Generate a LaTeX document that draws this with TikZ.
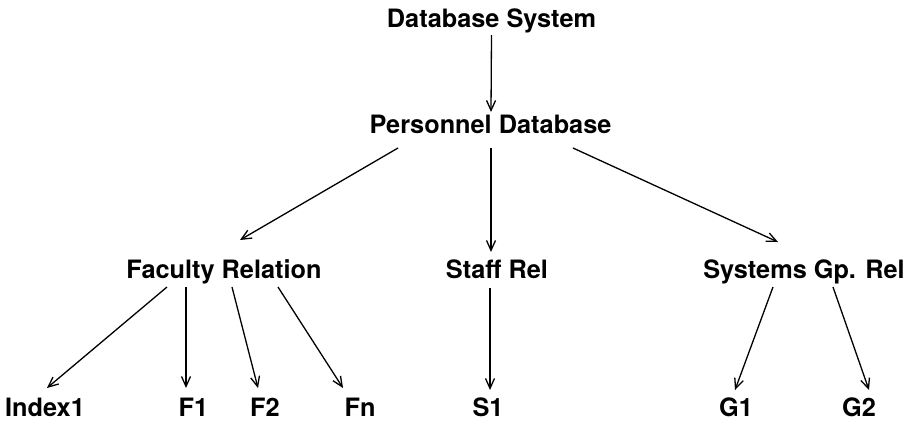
\documentclass[tikz,border=0pt]{standalone}
\usepackage{fontspec}
\setmainfont{TeX Gyre Heros}
\usetikzlibrary{arrows.meta,calc}
\tikzset{
  lbl/.style={inner sep=0pt, anchor=base, font=\fontsize{25.3}{30}\selectfont\bfseries},
  arr/.style={-{Straight Barb[length=10pt,width=9pt,line width=1.3pt]}, line width=1.3pt}
}
\begin{document}
\begin{tikzpicture}[x=1pt,y=-1pt]
\useasboundingbox (0,0) rectangle (911,424);
\node[lbl] (ds) at (491.5,27) {Database System};
\node[lbl] (pd) at (490.5,133) {Personnel Database};
\node[lbl] (fr) at (224,278) {Faculty Relation};
\node[lbl] (sr) at (497,278) {Staff Rel};
\node[lbl] (sg) at (804,278) {Systems Gp. Rel};
\node[lbl] (ix) at (45,416) {Index1};
\node[lbl] (f1) at (193.5,416) {F1};
\node[lbl] (f2) at (265,416) {F2};
\node[lbl] (fn) at (360,416) {Fn};
\node[lbl] (s1) at (488,416) {S1};
\node[lbl] (g1) at (736,416) {G1};
\node[lbl] (g2) at (859,416) {G2};
\draw[arr] ($(ds.base)+(0,8)$) -- ($(pd.base)+(0.5,-21)$);
\draw[arr] ($(pd.base)+(-92.5,15)$) -- ($(fr.base)+(16,-38)$);
\draw[arr] ($(pd.base)+(0.5,15)$) -- ($(sr.base)+(-6,-26)$);
\draw[arr] ($(pd.base)+(82.5,15)$) -- ($(sg.base)+(-26,-36)$);
\draw[arr] ($(fr.base)+(-57,9)$) -- ($(ix.base)+(2,-28)$);
\draw[arr] ($(fr.base)+(-38,9)$) -- ($(f1.base)+(-7.5,-28)$);
\draw[arr] ($(fr.base)+(8,9)$) -- ($(f2.base)+(-7,-28)$);
\draw[arr] ($(fr.base)+(54,9)$) -- ($(fn.base)+(-17,-28)$);
\draw[arr] ($(sr.base)+(-7,10)$) -- ($(s1.base)+(2,-26)$);
\draw[arr] ($(sg.base)+(-31,9)$) -- ($(g1.base)+(-1,-26)$);
\draw[arr] ($(sg.base)+(29,9)$) -- ($(g2.base)+(10,-26)$);
\end{tikzpicture}
\end{document}
